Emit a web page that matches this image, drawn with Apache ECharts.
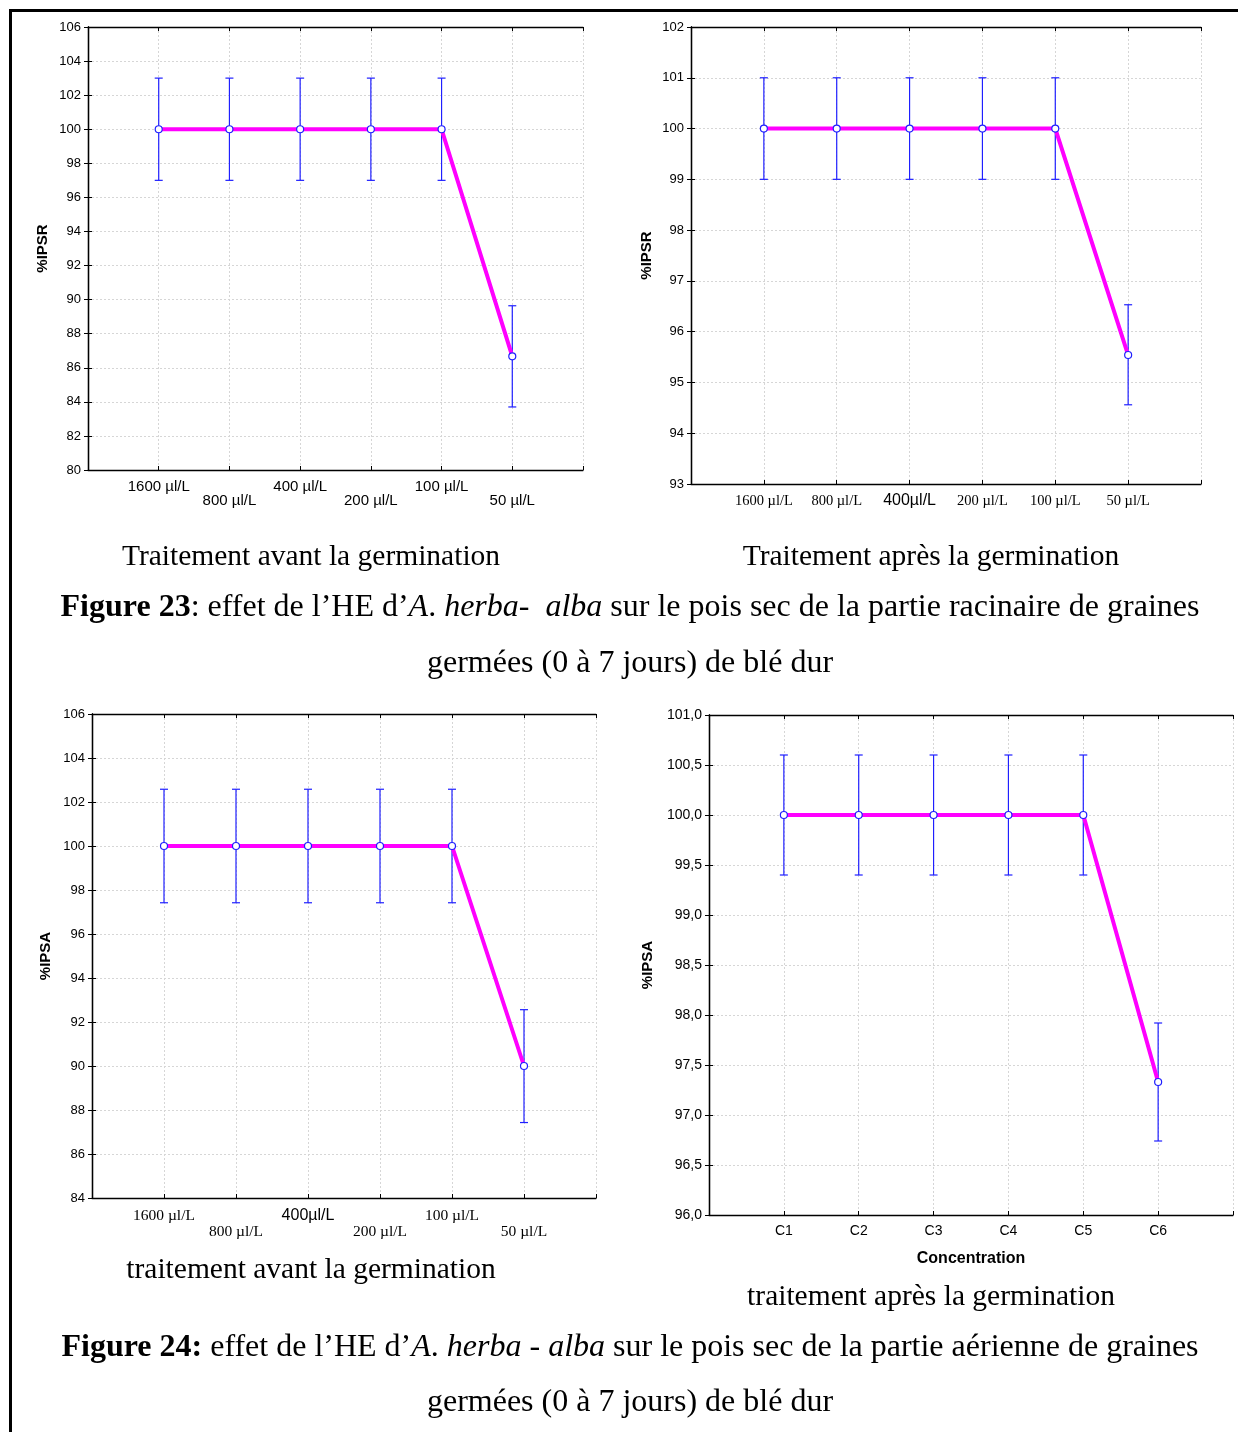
<!DOCTYPE html>
<html>
<head>
<meta charset="utf-8">
<script src="https://cdn.jsdelivr.net/npm/echarts@6/dist/echarts.min.js"></script>
<style>
  html, body { margin: 0; padding: 0; background: #fff; }
  #page { width: 1238px; height: 1432px; }
</style>
</head>
<body>
<div id="page"></div>
<script>
// Concentrations of the essential oil (x categories of each panel)
const dosesRootBefore  = ['1600 µl/L', '800 µl/L', '400 µl/L', '200 µl/L', '100 µl/L', '50 µl/L'];
const dosesRootAfter   = ['1600 µl/L', '800 µl/L', '400µl/L', '200 µl/L', '100 µl/L', '50 µl/L'];
const dosesShootBefore = ['1600 µl/L', '800 µl/L', '400µl/L', '200 µl/L', '100 µl/L', '50 µl/L'];
const dosesShootAfter  = ['C1', 'C2', 'C3', 'C4', 'C5', 'C6'];

// %IPSR, root part, treatment before germination (mean, lower, upper)
const ipsrBeforeMean = [100, 100, 100, 100, 100, 86.67];
const ipsrBeforeLow  = [97, 97, 97, 97, 97, 83.7];
const ipsrBeforeHigh = [103, 103, 103, 103, 103, 89.64];
const ipsrBeforeTicks = [80, 106, 2];   // min, max, step

// %IPSR, root part, treatment after germination
const ipsrAfterMean = [100, 100, 100, 100, 100, 95.54];
const ipsrAfterLow  = [99, 99, 99, 99, 99, 94.56];
const ipsrAfterHigh = [101, 101, 101, 101, 101, 96.53];
const ipsrAfterTicks = [93, 102, 1];

// %IPSA, aerial part, treatment before germination
const ipsaBeforeMean = [100, 100, 100, 100, 100, 90];
const ipsaBeforeLow  = [97.42, 97.42, 97.42, 97.42, 97.42, 87.43];
const ipsaBeforeHigh = [102.58, 102.58, 102.58, 102.58, 102.58, 92.56];
const ipsaBeforeTicks = [84, 106, 2];

// %IPSA, aerial part, treatment after germination
const ipsaAfterMean = [100, 100, 100, 100, 100, 97.33];
const ipsaAfterLow  = [99.4, 99.4, 99.4, 99.4, 99.4, 96.74];
const ipsaAfterHigh = [100.6, 100.6, 100.6, 100.6, 100.6, 97.92];
const ipsaAfterTicks = [96, 101, 0.5];

const SANS = '"Liberation Sans", Arial, sans-serif';
const SERIF = '"Liberation Serif", "Times New Roman", serif';
const ERR = '#1f1fff';
const GRIDLINE = { color: '#d6d6d6', type: [2, 2], width: 1 };

const panels = [
  { grid: { left: 88, top: 27, width: 495, height: 443 },
    cats: dosesRootBefore, mean: ipsrBeforeMean, low: ipsrBeforeLow, high: ipsrBeforeHigh,
    ticks: ipsrBeforeTicks, yName: '%IPSR', nameGap: 38, tickFont: 13,
    labelMode: 'sansStagger', labelFont: 15, labelLine: 14, labelMargin: 10 },
  { grid: { left: 691, top: 27, width: 510, height: 457 },
    cats: dosesRootAfter, mean: ipsrAfterMean, low: ipsrAfterLow, high: ipsrAfterHigh,
    ticks: ipsrAfterTicks, yName: '%IPSR', nameGap: 37, tickFont: 13,
    labelMode: 'serifRow', serifFont: 14.5, sansFont: 16, labelLine: 16, labelMargin: 9 },
  { grid: { left: 92, top: 714, width: 504, height: 484 },
    cats: dosesShootBefore, mean: ipsaBeforeMean, low: ipsaBeforeLow, high: ipsaBeforeHigh,
    ticks: ipsaBeforeTicks, yName: '%IPSA', nameGap: 39, tickFont: 13,
    labelMode: 'serifStagger', serifFont: 15.5, sansFont: 16, labelLine: 16, labelMargin: 10 },
  { grid: { left: 709, top: 715, width: 524, height: 500 },
    cats: dosesShootAfter, mean: ipsaAfterMean, low: ipsaAfterLow, high: ipsaAfterHigh,
    ticks: ipsaAfterTicks, yName: '%IPSA', nameGap: 54, tickFont: 14, decimalComma: true,
    xName: 'Concentration',
    labelMode: 'sansRow', labelFont: 14, labelLine: 16, labelMargin: 8 }
];

const grids = [], xAxes = [], yAxes = [], series = [];

panels.forEach((p, k) => {
  grids.push(Object.assign({ containLabel: false }, p.grid));
  const [yMin, yMax, yStep] = p.ticks;
  const frameLine = { show: true, lineStyle: { color: '#000', width: 1.3 } };
  const innerTick = { show: true, inside: true, length: 4, lineStyle: { color: '#000', width: 1 } };

  const stagger = p.labelMode.endsWith('Stagger');
  const serif = p.labelMode.startsWith('serif');
  const rich = serif ? {
    t: { fontFamily: SERIF, fontSize: p.serifFont, color: '#000', lineHeight: p.labelLine },
    s: { fontFamily: SANS, fontSize: p.sansFont, color: '#000', lineHeight: p.labelLine }
  } : undefined;

  xAxes.push({
    gridIndex: k, type: 'value', min: 0, max: 7, interval: 1, position: 'bottom',
    axisLine: frameLine, axisTick: innerTick,
    splitLine: { show: true, lineStyle: GRIDLINE },
    name: p.xName || '', nameLocation: 'middle', nameGap: 36,
    nameTextStyle: { fontFamily: SANS, fontWeight: 'bold', fontSize: 16, color: '#000' },
    axisLabel: {
      show: true, margin: p.labelMargin, color: '#000',
      fontFamily: SANS, fontSize: p.labelFont || 14, lineHeight: p.labelLine,
      showMinLabel: true, showMaxLabel: true,
      rich,
      formatter: (v) => {
        const i = Math.round(v) - 1;
        if (i < 0 || i >= p.cats.length) return '';
        let txt = p.cats[i];
        if (serif) txt = (txt.indexOf(' ') < 0 ? '{s|' : '{t|') + txt + '}';
        return (stagger && i % 2 === 1) ? '\n' + txt : txt;
      }
    }
  });
  xAxes.push({
    gridIndex: k, type: 'value', min: 0, max: 7, interval: 1, position: 'top',
    axisLine: frameLine, axisTick: innerTick, splitLine: { show: false }, axisLabel: { show: false }
  });

  yAxes.push({
    gridIndex: k, type: 'value', min: yMin, max: yMax, interval: yStep, position: 'left',
    axisLine: frameLine, axisTick: innerTick,
    splitLine: { show: true, lineStyle: GRIDLINE },
    name: p.yName, nameLocation: 'middle', nameGap: p.nameGap,
    nameTextStyle: { fontFamily: SANS, fontWeight: 'bold', fontSize: 15, color: '#000' },
    axisLabel: {
      margin: 7, color: '#000', fontFamily: SANS, fontSize: p.tickFont,
      formatter: (v) => p.decimalComma ? v.toFixed(1).replace('.', ',') : String(v)
    }
  });
  yAxes.push({
    gridIndex: k, type: 'value', min: yMin, max: yMax, interval: yStep, position: 'right',
    axisLine: frameLine, axisTick: innerTick, splitLine: { show: false }, axisLabel: { show: false }
  });

  // error bars: vertical whisker with caps
  series.push({
    type: 'custom', xAxisIndex: 2 * k, yAxisIndex: 2 * k, z: 2, silent: true,
    data: p.low.map((lo, i) => [i + 1, lo, p.high[i]]),
    encode: { x: 0, y: [1, 2] },
    renderItem: (params, api) => {
      const x = api.value(0);
      const a = api.coord([x, api.value(1)]);
      const b = api.coord([x, api.value(2)]);
      const cap = 4;
      const style = { stroke: ERR, lineWidth: 1.2 };
      return {
        type: 'group',
        children: [
          { type: 'line', shape: { x1: a[0], y1: a[1], x2: b[0], y2: b[1] }, style },
          { type: 'line', shape: { x1: a[0] - cap, y1: a[1], x2: a[0] + cap, y2: a[1] }, style },
          { type: 'line', shape: { x1: b[0] - cap, y1: b[1], x2: b[0] + cap, y2: b[1] }, style }
        ]
      };
    }
  });

  // mean line
  series.push({
    type: 'line', xAxisIndex: 2 * k, yAxisIndex: 2 * k, z: 3, silent: true,
    data: p.mean.map((v, i) => [i + 1, v]),
    lineStyle: { color: '#ff00ff', width: 4 },
    symbol: 'circle', symbolSize: 7,
    itemStyle: { color: '#ffffff', borderColor: ERR, borderWidth: 1.2 },
    animation: false
  });
});

const SUB = 29.5;   // sub-caption size
const FIG = 32;     // figure caption size
const captionRich = {
  n: { fontFamily: SERIF, fontSize: FIG, fill: '#000' },
  b: { fontFamily: SERIF, fontSize: FIG, fontWeight: 'bold', fill: '#000' },
  i: { fontFamily: SERIF, fontSize: FIG, fontStyle: 'italic', fill: '#000' }
};
const caption = (x, y, text, size) => ({
  type: 'text', x, y, silent: true,
  style: { text, fill: '#000', font: size + 'px ' + SERIF, align: 'center', verticalAlign: 'middle' }
});
const richCaption = (x, y, text) => ({
  type: 'text', x, y, silent: true,
  style: { text, rich: captionRich, fill: '#000', font: FIG + 'px ' + SERIF, align: 'center', verticalAlign: 'middle' }
});

const graphics = [
  // page frame (top and left rules)
  { type: 'line', shape: { x1: 9, y1: 10.5, x2: 1238, y2: 10.5 }, style: { stroke: '#000', lineWidth: 3 } },
  { type: 'line', shape: { x1: 10.5, y1: 9, x2: 10.5, y2: 1432 }, style: { stroke: '#000', lineWidth: 3 } },

  caption(311, 557, 'Traitement avant la germination', SUB),
  caption(931, 557, 'Traitement après la germination', SUB),
  richCaption(630, 608,
    '{b|Figure 23}{n|: effet de l’HE d’}{i|A}{n|. }{i|herba-}{n|  }{i|alba}{n| sur le pois sec de la partie racinaire de graines}'),
  caption(630, 664, 'germées (0 à 7 jours) de blé dur', FIG),

  caption(311, 1270, 'traitement avant la germination', SUB),
  caption(931, 1297, 'traitement après la germination', SUB),
  richCaption(630, 1348,
    '{b|Figure 24:}{n| effet de l’HE d’}{i|A}{n|. }{i|herba}{n| - }{i|alba}{n| sur le pois sec de la partie aérienne de graines}'),
  caption(630, 1403, 'germées (0 à 7 jours) de blé dur', FIG)
];

const chart = echarts.init(document.getElementById('page'), null, { renderer: 'canvas' });
chart.setOption({
  animation: false,
  backgroundColor: '#ffffff',
  grid: grids,
  xAxis: xAxes,
  yAxis: yAxes,
  series,
  graphic: graphics
});
</script>
</body>
</html>
